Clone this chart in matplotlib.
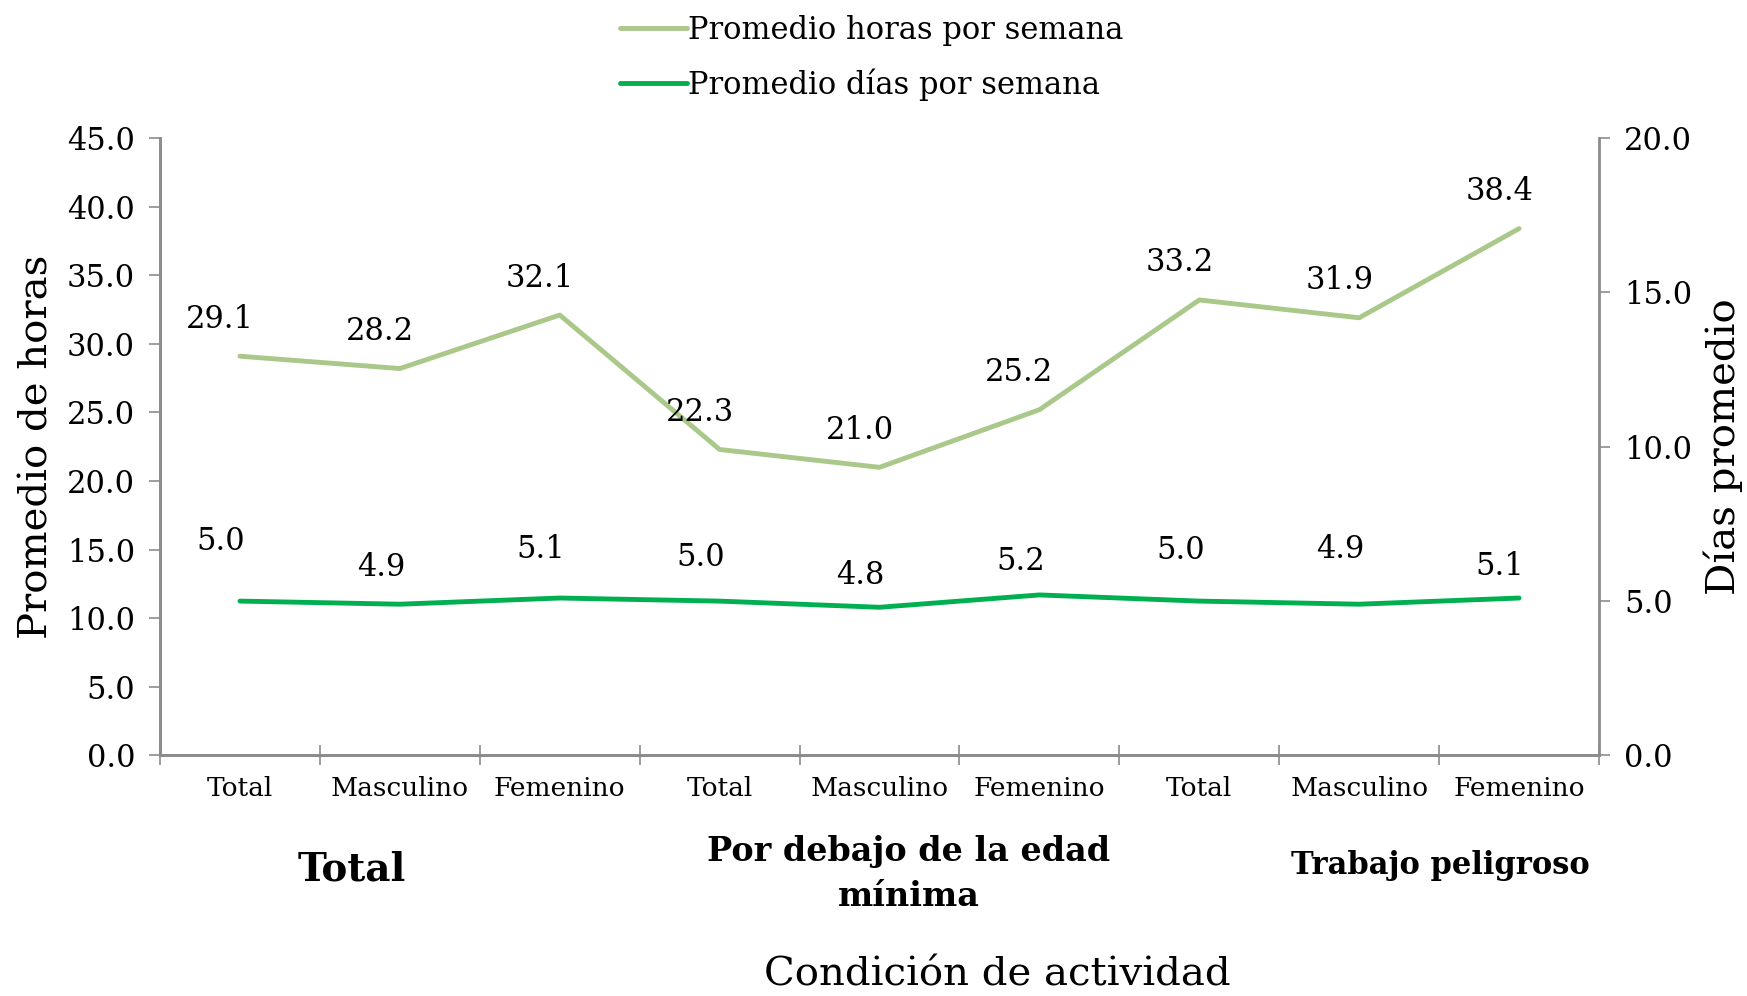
"""Horas y días promedio por semana según condición de actividad (dual axis)."""
import matplotlib
matplotlib.use("Agg")
import matplotlib.pyplot as plt

CATEGORIES = ["Total", "Masculino", "Femenino",
              "Total", "Masculino", "Femenino",
              "Total", "Masculino", "Femenino"]
GROUPS = ["Total", "Por debajo de la edad\nmínima", "Trabajo peligroso"]
HOURS = [29.1, 28.2, 32.1, 22.3, 21.0, 25.2, 33.2, 31.9, 38.4]
DAYS = [5.0, 4.9, 5.1, 5.0, 4.8, 5.2, 5.0, 4.9, 5.1]

LIGHT = "#A9C88A"
DARK = "#00B050"
AXCOL = "#8C8C8C"

# label offsets in pixels (dx, dy), days labels sit at uneven heights in the original
HOURS_OFF = (-20, 37)
DAYS_DY = [60, 37, 49, 44, 32, 33, 51, 55, 32]

plt.rcParams["font.family"] = ["DejaVu Serif"]

fig = plt.figure(figsize=(17.47, 9.96), dpi=100)
ax1 = fig.add_axes([0.0916, 0.2415, 0.8237, 0.6199])
ax2 = ax1.twinx()

x = list(range(len(CATEGORIES)))
l1, = ax1.plot(x, HOURS, color=LIGHT, lw=3.5, solid_capstyle="round",
               label="Promedio horas por semana")
l2, = ax2.plot(x, DAYS, color=DARK, lw=3.5, solid_capstyle="round",
               label="Promedio días por semana")

for xi, v in zip(x, HOURS):
    ax1.annotate(f"{v:.1f}", (xi, v), xytext=HOURS_OFF, textcoords="offset pixels",
                 ha="center", va="center", fontsize=22)
for xi, v, dy in zip(x, DAYS, DAYS_DY):
    ax2.annotate(f"{v:.1f}", (xi, v), xytext=(-19, dy), textcoords="offset pixels",
                 ha="center", va="center", fontsize=22)

ax1.set_xlim(-0.5, len(CATEGORIES) - 0.5)
ax1.set_ylim(0, 45)
ax2.set_ylim(0, 20)
ax1.set_yticks([i * 5 for i in range(10)])
ax2.set_yticks([0, 5, 10, 15, 20])
ax1.yaxis.set_major_formatter(matplotlib.ticker.FormatStrFormatter("%.1f"))
ax2.yaxis.set_major_formatter(matplotlib.ticker.FormatStrFormatter("%.1f"))

ax1.set_xticks([i - 0.5 for i in range(len(CATEGORIES) + 1)])
ax1.set_xticklabels([])
ax1.set_xticks(x, minor=True)
ax1.set_xticklabels(CATEGORIES, minor=True, fontsize=19)
ax1.tick_params(axis="x", which="major", direction="inout", length=14, width=1.2, color=AXCOL)
ax1.tick_params(axis="x", which="minor", length=0, pad=15)
ax1.tick_params(axis="y", labelsize=22, length=8, width=1.2, color=AXCOL, pad=10)
ax2.tick_params(axis="y", labelsize=22, length=8, width=1.2, color=AXCOL, pad=10)

for a in (ax1, ax2):
    a.spines["top"].set_visible(False)
    for s in ("left", "right", "bottom"):
        a.spines[s].set_color(AXCOL)
        a.spines[s].set_linewidth(2)
ax1.spines["right"].set_visible(False)

ax1.set_ylabel("Promedio de horas", fontsize=29, labelpad=8)
ax2.set_ylabel("Días promedio", fontsize=29, labelpad=8)

# group labels under the category ticks
fig.text(352 / 1747, 1 - 869 / 996, GROUPS[0], ha="center", va="center",
         fontsize=28, fontweight="bold")
fig.text(909 / 1747, 1 - 874 / 996, GROUPS[1], ha="center", va="center",
         fontsize=24, fontweight="bold", linespacing=1.45)
fig.text(1440 / 1747, 1 - 865 / 996, GROUPS[2], ha="center", va="center",
         fontsize=22, fontweight="bold")
fig.text(997 / 1747, 1 - 975 / 996, "Condición de actividad", ha="center", va="center",
         fontsize=29)

fig.legend([l1, l2], [l1.get_label(), l2.get_label()], loc="upper center",
           bbox_to_anchor=(0.499, 1.013), frameon=False, fontsize=22,
           handlelength=2.2, handletextpad=0.05, labelspacing=0.75)

fig.savefig("out.png", dpi=100)
